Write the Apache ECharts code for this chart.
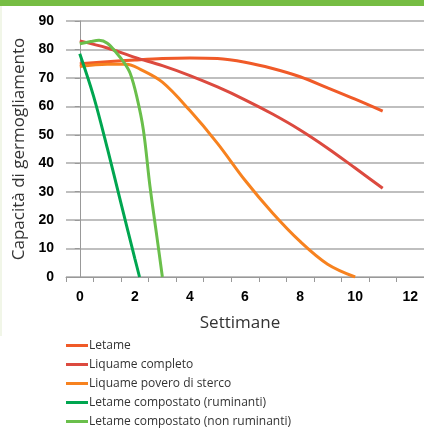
<!DOCTYPE html>
<html><head><meta charset="utf-8">
<script src="https://cdn.jsdelivr.net/npm/echarts@6/dist/echarts.min.js"></script>
<style>html,body{margin:0;padding:0;background:#fff}#c{width:424px;height:429px}</style>
</head><body><div id="c"></div>
<script>
var seriesNames = ['Letame','Liquame completo','Liquame povero di sterco','Letame compostato (ruminanti)','Letame compostato (non ruminanti)'];
var xTickLabels = ['0','1','2','3','4','5','6','7','8','9','10','11','12'];
var yTicks = [0,10,20,30,40,50,60,70,80,90];
var letame = [[0,75],[1,75.7],[2,76.3],[3,76.8],[4,77],[5,76.8],[6,75.5],[7,73.3],[8,70.4],[9,66.5],[10,62.5],[11,58.3]];
var liquameCompleto = [[0,83],[1,80.5],[2,77.2],[3,74.3],[4,70.8],[5,66.8],[6,62.3],[7,57.3],[8,51.7],[9,45.3],[10,38.3],[11,31.2]];
var liquamePovero = [[0,74],[1,74.8],[1.7,74.8],[2.2,73],[3,68.5],[4,58.5],[5,47],[6,34],[7,22.5],[8,12.5],[9,4.5],[10,0]];
var compRuminanti = [[0,78.5],[0.5,63.6],[1,45.3],[1.5,25.8],[2,6.5],[2.17,0]];
var compNonRuminanti = [[0,82],[0.4,82.8],[0.7,83.2],[1,82.2],[1.35,78.6],[1.6,75.5],[1.83,71.6],[2.07,63.4],[2.31,51.7],[2.55,31.8],[2.8,14.2],[3.0,0]];
var colors = ['#f05a28','#dc4a3f','#f7821f','#00a650','#6abf4b'];
var allData = [letame, liquameCompleto, liquamePovero, compRuminanti, compNonRuminanti];

var chart = echarts.init(document.getElementById('c'));
var series = allData.map(function(d,i){
  return {name: seriesNames[i], type:'line', xAxisIndex:1, data:d, smooth:0.35,
    showSymbol:false, symbol:'none', lineStyle:{width:3, color:colors[i]}, itemStyle:{color:colors[i]}};
});
chart.setOption({
  animation:false,
  graphic:[
    {type:'rect', left:0, top:0, shape:{width:424, height:6}, style:{fill:'#76bd43'}},
    {type:'rect', left:0, top:6, shape:{width:2, height:330}, style:{fill:'#f1f6e8'}}
  ],
  grid:{left:66, right:-3, top:21, bottom:152, containLabel:false},
  legend:{orient:'vertical', left:66, top:338, padding:0, itemWidth:22, itemHeight:3, itemGap:4, icon:'rect',
    data:seriesNames,
    textStyle:{fontFamily:'Open Sans', fontSize:12, lineHeight:15, color:'#333', padding:[0,0,0,-4]}},
  xAxis:[
    {type:'category', data:xTickLabels, boundaryGap:true,
     axisLine:{lineStyle:{color:'#999', width:1}},
     axisTick:{show:true, interval:0, length:5, lineStyle:{color:'#999'}},
     axisLabel:{interval:1, fontFamily:'Liberation Sans', fontWeight:'bold', fontSize:14, color:'#000', margin:13},
     splitLine:{show:false},
     name:'Settimane', nameLocation:'middle', nameGap:38,
     nameTextStyle:{fontFamily:'Open Sans', fontSize:17, color:'#333', padding:[0,10,0,0]}},
    {type:'value', min:-0.5, max:12.5, show:false}
  ],
  yAxis:{type:'value', min:0, max:90, interval:10,
    axisLine:{show:true, lineStyle:{color:'#999', width:1}},
    axisTick:{show:true, length:5, lineStyle:{color:'#999'}},
    axisLabel:{fontFamily:'Liberation Sans', fontWeight:'bold', fontSize:14, color:'#000', margin:12},
    splitLine:{lineStyle:{color:'#aaa', width:1.5}},
    name:'Capacità di germogliamento', nameLocation:'middle', nameGap:38,
    nameTextStyle:{fontFamily:'Open Sans', fontSize:17, color:'#333'}},
  series:series
});
</script></body></html>
